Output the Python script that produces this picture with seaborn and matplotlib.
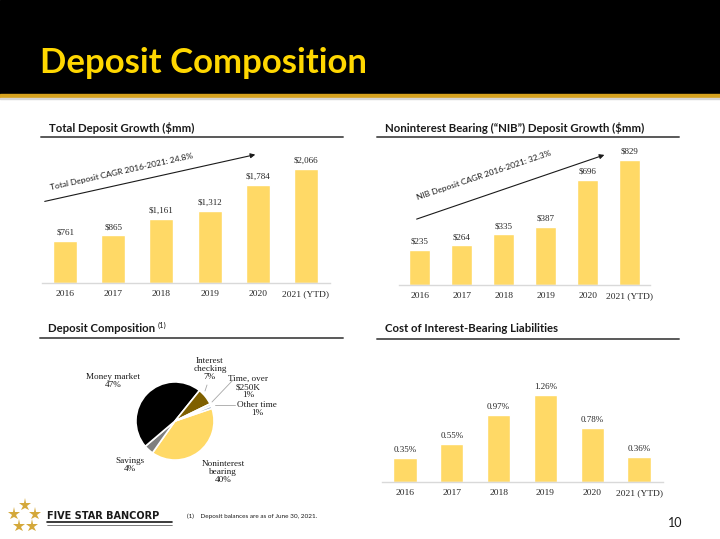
import numpy as np
import pandas as pd
import seaborn as sns
import matplotlib.pyplot as plt
from matplotlib.patches import Rectangle
from matplotlib.lines import Line2D

# data
years = ['2016', '2017', '2018', '2019', '2020', '2021 (YTD)']
total_deposits = [761, 865, 1161, 1312, 1784, 2066]
nib_deposits = [235, 264, 335, 387, 696, 829]
cost_ibl = [0.35, 0.55, 0.97, 1.26, 0.78, 0.36]

pie_labels = ['Noninterest\nbearing', 'Savings', 'Money market', 'Interest\nchecking',
              'Time, over\n$250K', 'Other time']
pie_pcts = [40, 4, 47, 7, 1, 1]
pie_colors = ['#FFD966', '#7F7F7F', '#000000', '#7F6000', '#D9D9D9', '#8497B0']

total_cagr = 'Total Deposit CAGR 2016-2021: 24.8%'
nib_cagr = 'NIB Deposit CAGR 2016-2021: 32.3%'

W, H = 720, 539
BAR = '#FFD966'
SANS = ['Lato', 'DejaVu Sans']
SERIF = ['Liberation Serif', 'DejaVu Serif']

sns.set_theme(style='white')
plt.rcParams['font.family'] = SANS

fig = plt.figure(figsize=(W / 100, H / 100), dpi=100)
fig.patch.set_facecolor('white')


def fx(x):
    return x / W


def fy(y):
    return 1 - y / H


def rect(x0, y0, x1, y1):
    # pixel box -> figure fraction rect
    return [fx(x0), fy(y1), fx(x1) - fx(x0), fy(y0) - fy(y1)]


# banner
fig.add_artist(Rectangle((0, fy(94)), 1, fy(0) - fy(94), transform=fig.transFigure,
                         color='black', zorder=0))
fig.add_artist(Rectangle((0, fy(97.5)), 1, fy(94) - fy(97.5), transform=fig.transFigure,
                         color='#D6A21E', zorder=1))
fig.add_artist(Rectangle((0, fy(99)), 1, fy(97.5) - fy(99), transform=fig.transFigure,
                         color='#D6D6D6', zorder=1))
fig.text(fx(40), fy(63), 'Deposit Composition', color='#FFD700', fontsize=25,
         fontweight='bold', va='center', ha='left')


def header(x0, x1, y_text, y_line, text):
    fig.text(fx(x0 + 8), fy(y_text), text, fontsize=8.2, fontweight='bold',
             color='#1a1a1a', va='center', ha='left')
    fig.add_artist(Line2D([fx(x0), fx(x1)], [fy(y_line), fy(y_line)],
                          transform=fig.transFigure, color='#595959', lw=1.4))


header(41, 343, 128, 137, 'Total Deposit Growth ($mm)')
header(377, 679, 128, 137, 'Noninterest Bearing (\u201cNIB\u201d) Deposit Growth ($mm)')
header(40, 343, 328, 338, 'Deposit Composition')
fig.text(fx(158), fy(325), '(1)', fontsize=5.5, color='#1a1a1a', va='center', ha='left')
header(377, 679, 328, 339, 'Cost of Interest-Bearing Liabilities')


def bars(box, values, labels, xlim, ytop, fsize=6.5):
    ax = fig.add_axes(rect(*box))
    df = pd.DataFrame({'year': years, 'value': values})
    sns.barplot(data=df, x='year', y='value', color=BAR, saturation=1, width=0.5, ax=ax)
    ax.set_xlim(*xlim)
    ax.set_ylim(0, ytop)
    ax.set_xlabel('')
    ax.set_ylabel('')
    ax.set_yticks([])
    for s in ['left', 'right', 'top']:
        ax.spines[s].set_visible(False)
    ax.spines['bottom'].set_color('#D9D9D9')
    ax.spines['bottom'].set_linewidth(1)
    ax.tick_params(axis='x', length=0, pad=5)
    for t in ax.get_xticklabels():
        t.set_fontfamily(SERIF)
        t.set_fontsize(6.8)
    ax.bar_label(ax.containers[0], labels=labels, padding=3, fontsize=fsize,
                 fontfamily=SERIF)
    ax.patch.set_alpha(0)
    return ax


ax1 = bars((42, 140, 330, 283), total_deposits, [f'${v:,}' for v in total_deposits],
           (-0.48, 5.5), 2066 * 143 / 114)
ax1.annotate('', xy=(fx(258), fy(154)), xytext=(fx(42), fy(202)),
             xycoords='figure fraction', textcoords='figure fraction',
             arrowprops=dict(arrowstyle='-|>', color='#1a1a1a', lw=0.8, mutation_scale=7))
fig.text(fx(122), fy(172), total_cagr, rotation=12.6, fontsize=6, color='#1a1a1a',
         ha='center', va='center', rotation_mode='anchor')

ax2 = bars((399, 140, 650, 285), nib_deposits, [f'${v:,}' for v in nib_deposits],
           (-0.5, 5.48), 829 * 145 / 125)
ax2.annotate('', xy=(fx(607), fy(154)), xytext=(fx(414), fy(220)),
             xycoords='figure fraction', textcoords='figure fraction',
             arrowprops=dict(arrowstyle='-|>', color='#1a1a1a', lw=0.8, mutation_scale=7))
fig.text(fx(484), fy(175), nib_cagr, rotation=18.5, fontsize=6, color='#1a1a1a',
         ha='center', va='center', rotation_mode='anchor')

ax3 = bars((382, 342, 663, 482), cost_ibl, [f'{v:.2f}%' for v in cost_ibl],
           (-0.49, 5.51), 1.26 * 140 / 87)

# pie
axp = fig.add_axes(rect(134, 380, 216, 462))
axp.pie(pie_pcts, colors=pie_colors, startangle=18.8, counterclock=False, radius=1,
        wedgeprops=dict(edgecolor='white', linewidth=1.2))
axp.set_xlim(-1.05, 1.05)
axp.set_ylim(-1.05, 1.05)
axp.set_aspect('equal')
axp.axis('off')

label_pos = {
    'Noninterest\nbearing': (223, 472),
    'Savings': (130, 465),
    'Money market': (113, 381),
    'Interest\nchecking': (210, 369),
    'Time, over\n$250K': (248, 387),
    'Other time': (257, 409),
}
for name, pct in zip(pie_labels, pie_pcts):
    x, y = label_pos[name]
    fig.text(fx(x), fy(y), f'{name}\n{pct}%', fontsize=6.6, fontfamily=SERIF,
             ha='center', va='center', linespacing=1.05, color='#1a1a1a')

# leader lines for the small slices
for xs, ys in [([233, 212], [380, 402]), ([235, 215], [405, 405]), ([207, 205], [385, 391])]:
    fig.add_artist(Line2D([fx(v) for v in xs], [fy(v) for v in ys],
                          transform=fig.transFigure, color='#A6A6A6', lw=0.6))

# footer logo: stars as markers
star_x = [25, 14, 35, 19, 32]
star_y = [505, 514, 514, 526, 526]
fig.add_artist(Line2D([fx(v) for v in star_x], [fy(v) for v in star_y],
                      transform=fig.transFigure, linestyle='none', marker='*',
                      markersize=9.5, color='#D4A83A', markeredgewidth=0))
fig.text(fx(47), fy(516), 'FIVE STAR BANCORP', fontsize=7, fontweight='bold',
         color='#1a1a1a', ha='left', va='center', family=['DejaVu Sans'])
fig.add_artist(Line2D([fx(47), fx(172)], [fy(522), fy(522)], transform=fig.transFigure,
                      color='#1a1a1a', lw=1.2))
fig.add_artist(Line2D([fx(47), fx(172)], [fy(524.5), fy(524.5)], transform=fig.transFigure,
                      color='#1a1a1a', lw=0.4))
fig.text(fx(187), fy(516), '(1)    Deposit balances are as of June 30, 2021.', fontsize=4.6,
         color='#1a1a1a', ha='left', va='center')
fig.text(fx(682), fy(523), '10', fontsize=9, color='#1a1a1a', ha='right', va='center')

fig.savefig('out.png', dpi=100)
